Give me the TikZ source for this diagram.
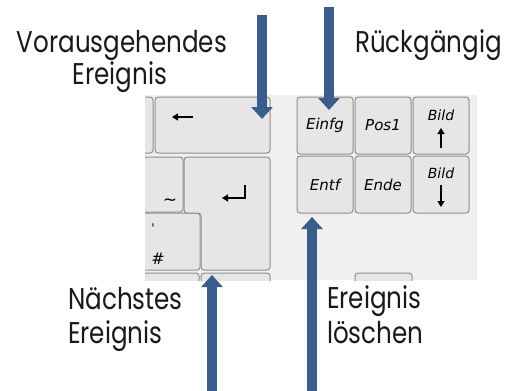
\documentclass[tikz,border=0pt]{standalone}
\usepackage{fontspec}
\setmainfont{Poppins}[FakeStretch=0.82]
\newfontfamily\keyfont{DejaVu Sans}
\usetikzlibrary{arrows.meta}
\definecolor{bgkb}{HTML}{F0F0F0}
\definecolor{keyfill}{HTML}{E6E6E6}
\definecolor{keyline}{HTML}{8E8E8E}
\definecolor{arrowblue}{HTML}{3A5D8C}
\tikzset{
  keybox/.style={draw=keyline, fill=keyfill, line width=1pt, rounded corners=3pt, inner sep=0pt},
  keylabel/.style={font=\keyfont\itshape\fontsize{15}{15}\selectfont, inner sep=0pt},
  keysym/.style={line width=1.2pt, -{Triangle[length=6pt,width=7pt]}},
  bigarrow/.style={draw=arrowblue, line width=10pt, -{Triangle[length=12pt,width=21pt]}},
  lbl/.style={font=\fontsize{30}{30}\selectfont, inner sep=0pt, text=black!90},
}
\begin{document}
\begin{tikzpicture}[x=1pt,y=-1pt]
\useasboundingbox (0,0) rectangle (517,391);
% keyboard background
\fill[bgkb] (145,95) rectangle (477,280);
\begin{scope}
\clip (145,95) rectangle (477,280);
% left partial keys
\draw[keybox] (100,97) rectangle (153,153);
\draw[keybox] (100,157) rectangle (183,212);
\draw[keybox] (100,213) rectangle (200,270);
% bottom partial keys
\draw[keybox] (100,273) rectangle (199,300);
\draw[keybox] (201,273) rectangle (270,300);
\draw[keybox] (355,273) rectangle (412,300);
\end{scope}
% backspace
\node[keybox, minimum width=115pt, minimum height=56pt] (bksp) at (212.5,125) {};
\coordinate (bkspA) at (193,117);
\coordinate (bkspB) at (172,117);
\draw[keysym] (bkspA) -- (bkspB);
% enter
\draw[keybox] (184,157) -- (270,157) -- (270,270) -- (201,270) -- (201,213) -- (184,213) -- cycle;
\coordinate (entA) at (245,185);
\coordinate (entB) at (222,198);
\draw[keysym] (entA) |- (entB);
% tilde and hash
\node[font=\keyfont\fontsize{17}{17}\selectfont, inner sep=0pt] (tilde) at (170,202) {\char`\~};
\node[font=\keyfont\fontsize{12}{12}\selectfont, inner sep=0pt] (apos) at (153,228) {'};
\node[font=\keyfont\fontsize{16}{16}\selectfont, inner sep=0pt] (hash) at (158,259) {\#};
% right block
\node[keybox, minimum width=56pt, minimum height=57pt] (einfg) at (325,125.5) {};
\node[keylabel] at (einfg) {Einfg};
\node[keybox, minimum width=56pt, minimum height=57pt] (pos1) at (383,125.5) {};
\node[keylabel] at (pos1) {Pos1};
\node[keybox, minimum width=56pt, minimum height=57pt] (bildup) at (441,125.5) {};
\node[keylabel, font=\keyfont\itshape\fontsize{14}{14}\selectfont] (bildupt) at (441,115) {Bild};
\coordinate (buA) at (441,148);
\coordinate (buB) at (441,128);
\draw[keysym] (buA) -- (buB);
\node[keybox, minimum width=56pt, minimum height=57pt] (entf) at (325,184.5) {};
\node[keylabel] at (entf) {Entf};
\node[keybox, minimum width=56pt, minimum height=57pt] (ende) at (383,184.5) {};
\node[keylabel] at (ende) {Ende};
\node[keybox, minimum width=56pt, minimum height=57pt] (bilddn) at (441,184.5) {};
\node[keylabel, font=\keyfont\itshape\fontsize{14}{14}\selectfont] (bilddnt) at (441,173) {Bild};
\coordinate (bdA) at (441,185);
\coordinate (bdB) at (441,207);
\draw[keysym] (bdA) -- (bdB);
% labels
\node[lbl, anchor=base] (l1a) at (122,52) {Vorausgehendes};
\node[lbl, anchor=base] (l1b) at (120,84) {Ereignis};
\node[lbl, anchor=base west] (l2) at (355,52) {Rückgängig};
\node[lbl, anchor=base west] (l3a) at (68,309) {Nächstes};
\node[lbl, anchor=base west] (l3b) at (68,343) {Ereignis};
\node[lbl, anchor=base west] (l4a) at (327,308) {Ereignis};
\node[lbl, anchor=base west] (l4b) at (327,343) {löschen};
% big arrows
\coordinate (a1s) at (262,15);
\coordinate (a1e) at (262,119);
\draw[bigarrow] (a1s) -- (a1e);
\coordinate (a2s) at (329,7);
\coordinate (a2e) at (329,110);
\draw[bigarrow] (a2s) -- (a2e);
\coordinate (a3s) at (212,391);
\coordinate (a3e) at (212,275);
\draw[bigarrow] (a3s) -- (a3e);
\coordinate (a4s) at (312,391);
\coordinate (a4e) at (312,217);
\draw[bigarrow] (a4s) -- (a4e);
\end{tikzpicture}
\end{document}
